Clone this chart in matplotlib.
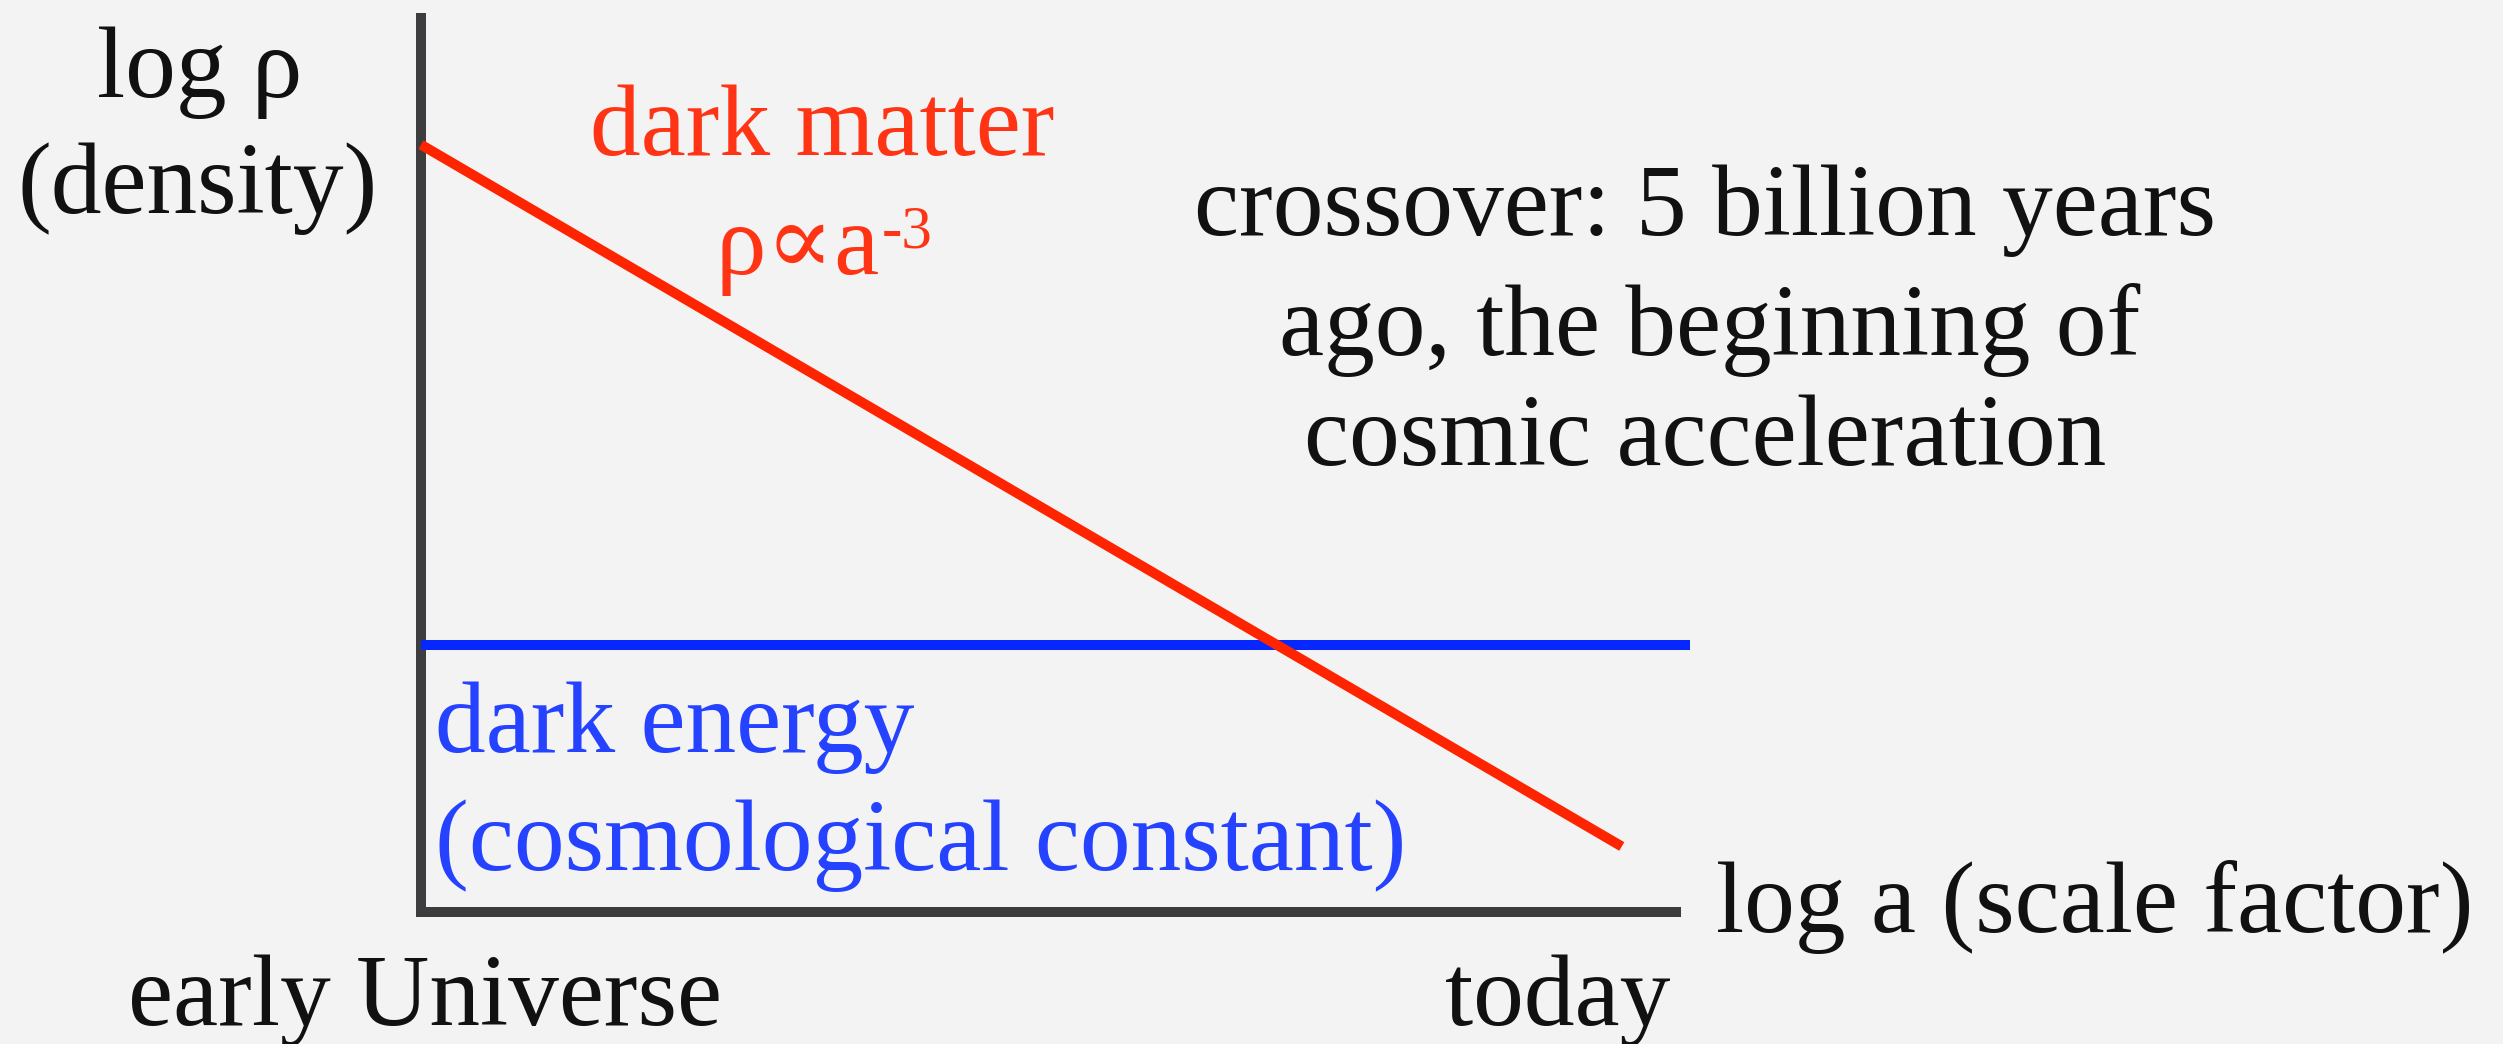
import matplotlib
matplotlib.use("Agg")
import matplotlib.pyplot as plt

# Schematic densities in arbitrary log units
log_a_matter = [0.0, 9.53]
log_rho_matter = [6.09, 0.52]
log_a_lambda = [0.0, 10.07]
log_rho_lambda = [2.12, 2.12]

W, H, DPI = 2503, 1044, 100
BG = "#f3f3f3"
SERIF = ["Liberation Serif", "DejaVu Serif"]
FS = 73  # pt

fig = plt.figure(figsize=(W / DPI, H / DPI), dpi=DPI, facecolor=BG)

# axes frame: origin at the corner of the two axis lines
x0, x1 = 421, 1676
y_bottom, y_top = 912, 18
ax = fig.add_axes([x0 / W, (H - y_bottom) / H, (x1 - x0) / W, (y_bottom - y_top) / H])
ax.set_facecolor("none")
ax.set_xlim(0, (x1 - x0) / 126.0)
ax.set_ylim(0, (y_bottom - y_top) / 126.0)
for side in ("top", "right"):
    ax.spines[side].set_visible(False)
for side in ("left", "bottom"):
    ax.spines[side].set_linewidth(10 * 72 / DPI)
    ax.spines[side].set_color("#3d3d3f")
    ax.spines[side].set_capstyle("projecting")
ax.set_xticks([])
ax.set_yticks([])

lw = 10 * 72 / DPI
ax.plot(log_a_lambda, log_rho_lambda, color="#0628ff", lw=lw, solid_capstyle="butt",
        clip_on=False, zorder=3)
ax.plot(log_a_matter, log_rho_matter, color="#ff2400", lw=lw, solid_capstyle="butt",
        clip_on=False, zorder=4)


def put(x_px, base_px, s, color="#111111", ha="left", size=FS, **kw):
    return fig.text(x_px / W, 1 - base_px / H, s, color=color, ha=ha, va="baseline",
                    fontsize=size, family=SERIF, **kw)


put(200, 97, "log ρ", ha="center")
put(198, 213, "(density)", ha="center")

put(822, 155, "dark matter", color="#ff3414", ha="center")
t = put(715, 274, "ρ∝a", color="#ff3414")
fig.canvas.draw()
bb = t.get_window_extent(renderer=fig.canvas.get_renderer())
put(bb.x1 + 2, 247, "-3", color="#ff3414", size=FS * 0.6)

put(435, 752, "dark energy", color="#2442ff")
put(435, 870, "(cosmological constant)", color="#2442ff")

put(1705, 235, "crossover: 5 billion years", ha="center")
put(1710, 355, "ago, the beginning of", ha="center")
put(1705, 465, "cosmic acceleration", ha="center")

put(1716, 932, "log a (scale factor)")
put(128, 1025, "early Universe")
put(1445, 1025, "today")

fig.savefig("out.png", dpi=DPI, facecolor=BG)
